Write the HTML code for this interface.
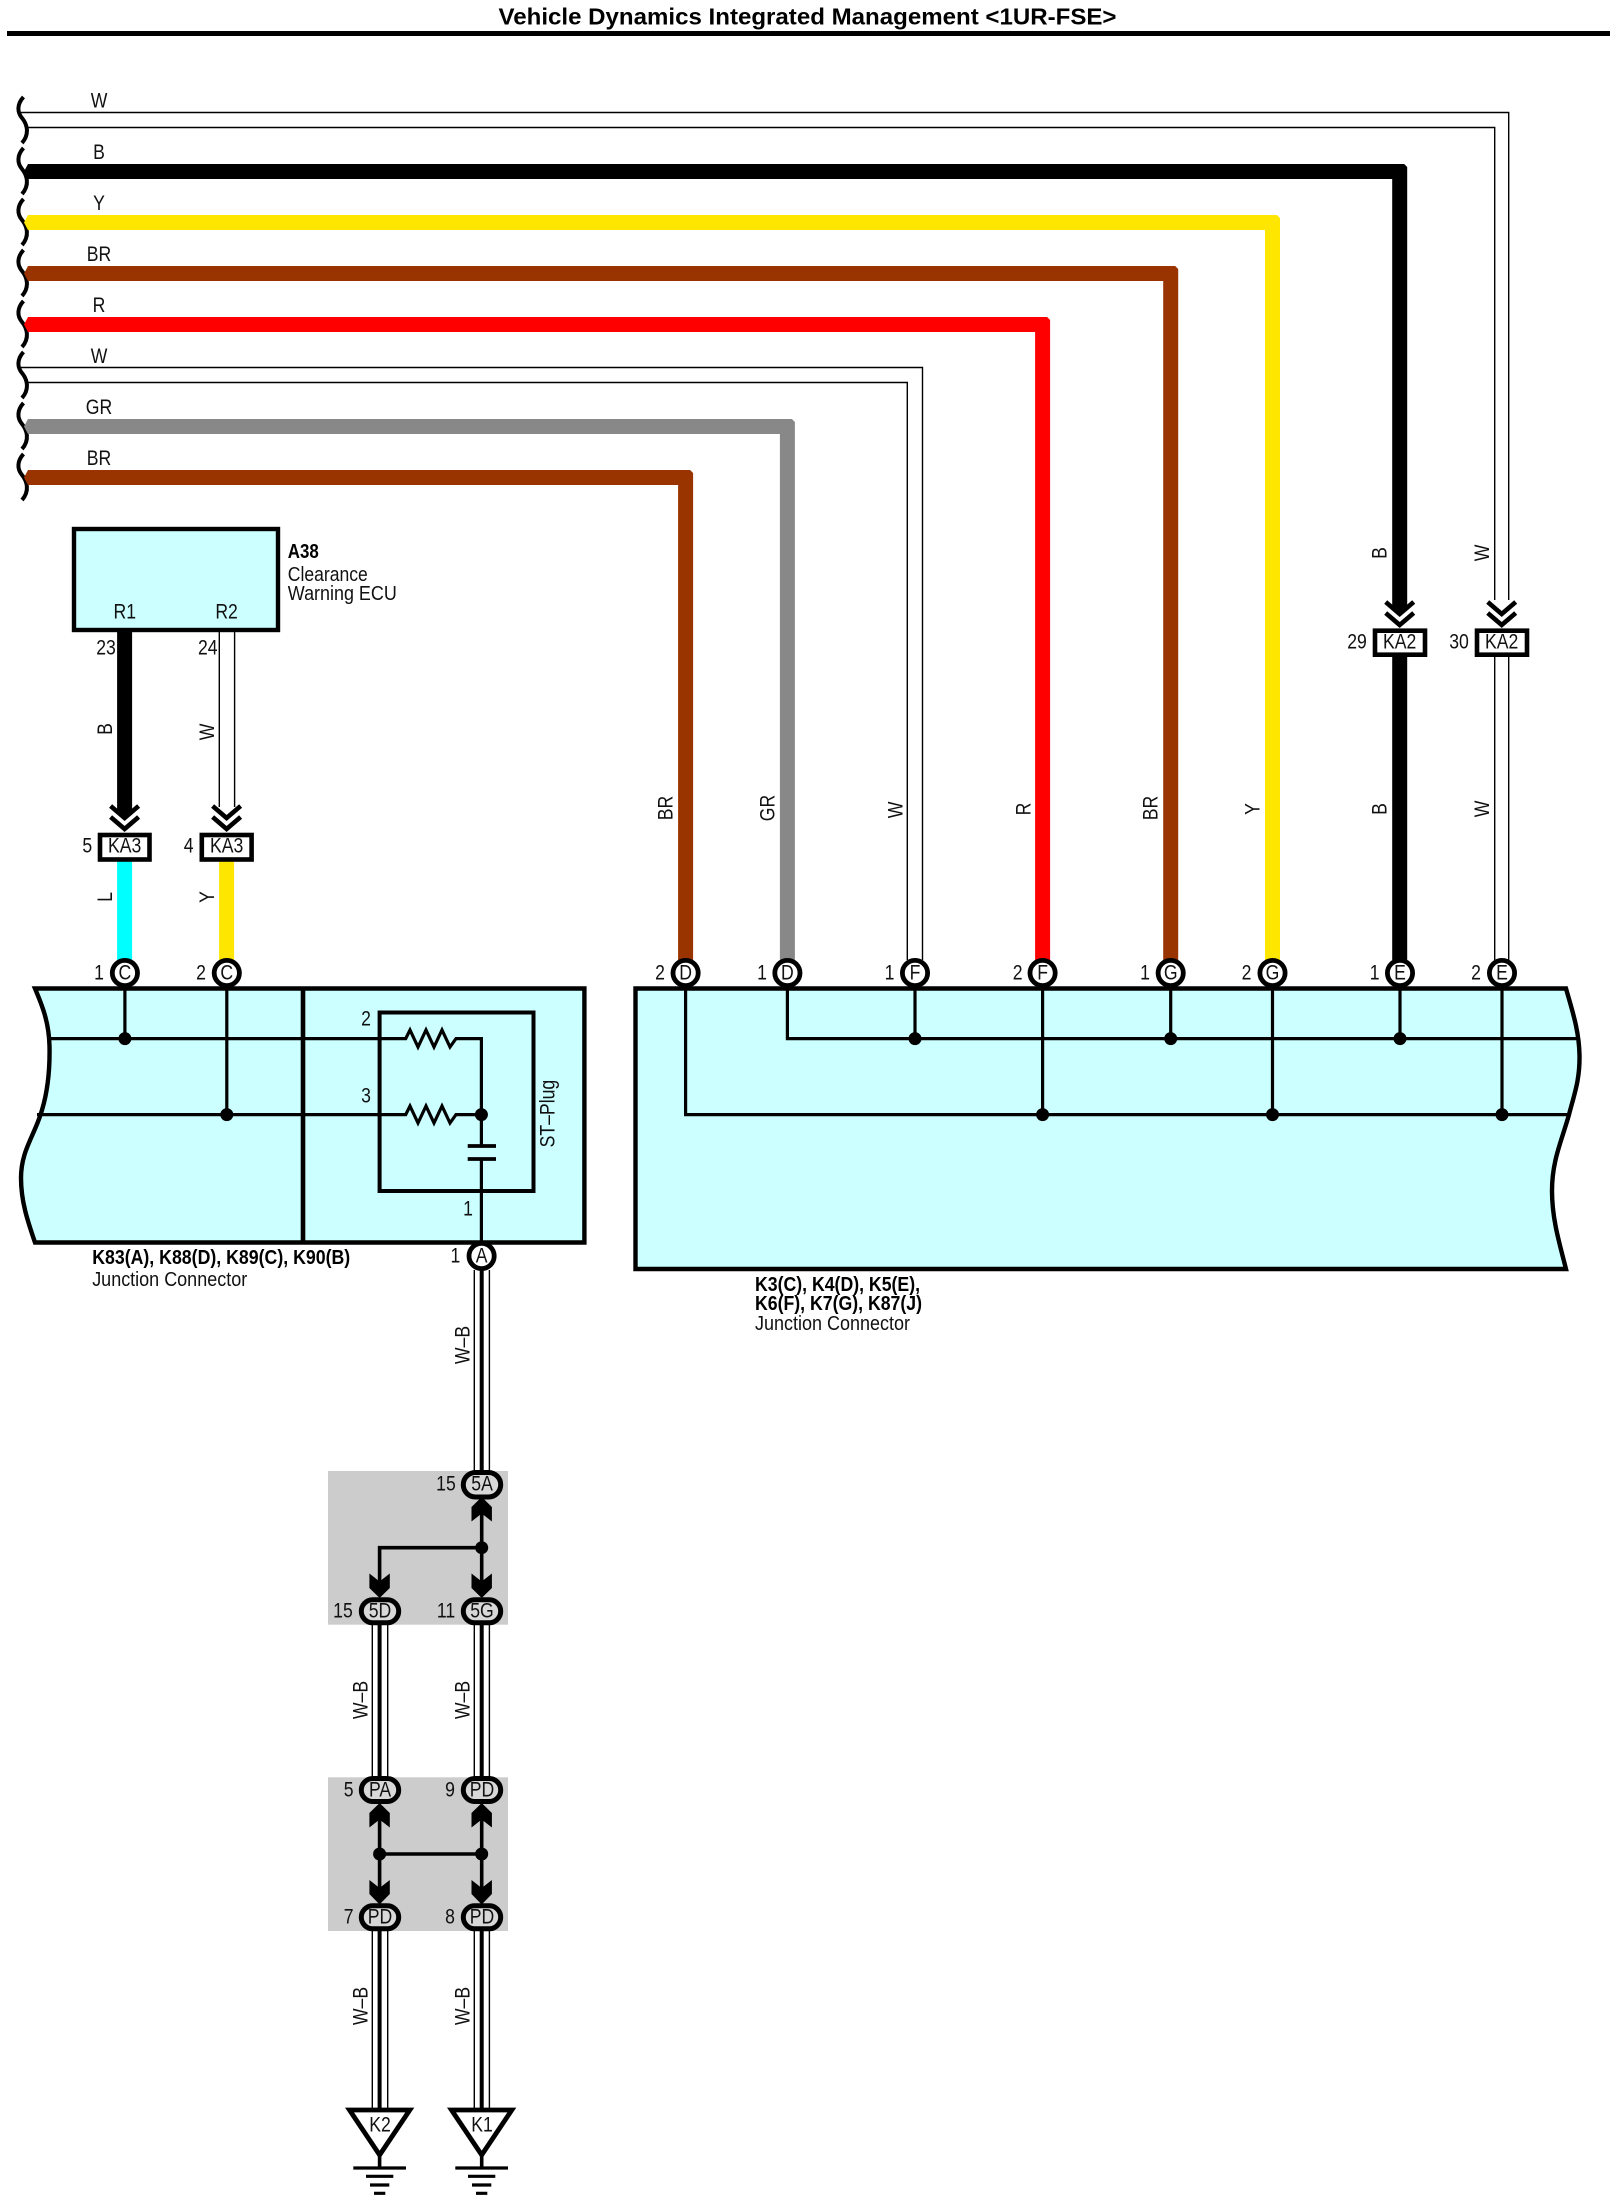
<!DOCTYPE html>
<html>
<head>
<meta charset="utf-8">
<style>
html,body{margin:0;padding:0;background:#fff;}
svg{display:block;}
text{font-family:"Liberation Sans",sans-serif;font-size:21.5px;fill:#111;}
.c{text-anchor:middle;dominant-baseline:central;transform-box:fill-box;transform-origin:center;transform:scaleX(.82);}
.b{font-weight:bold;fill:#000;}
.l{font-size:20px;}
</style>
</head>
<body>
<svg xmlns="http://www.w3.org/2000/svg" width="1614" height="2209" viewBox="0 0 1614 2209">
<rect width="1614" height="2209" fill="#fff"/>

<!-- Title -->
<text x="498.5" y="24.5" class="b" style="font-size:23px" textLength="618" lengthAdjust="spacingAndGlyphs">Vehicle Dynamics Integrated Management &lt;1UR-FSE&gt;</text>
<rect x="7" y="31" width="1603" height="5" fill="#000"/>

<!-- Wavy break -->
<g fill="none" stroke="#000" stroke-width="4">
<path d="M23.5 97C17 104 17 112 22 118S30 134 22 143"/>
<path transform="translate(0,51)" d="M23.5 97C17 104 17 112 22 118S30 134 22 143"/>
<path transform="translate(0,102)" d="M23.5 97C17 104 17 112 22 118S30 134 22 143"/>
<path transform="translate(0,153)" d="M23.5 97C17 104 17 112 22 118S30 134 22 143"/>
<path transform="translate(0,204)" d="M23.5 97C17 104 17 112 22 118S30 134 22 143"/>
<path transform="translate(0,255)" d="M23.5 97C17 104 17 112 22 118S30 134 22 143"/>
<path transform="translate(0,306)" d="M23.5 97C17 104 17 112 22 118S30 134 22 143"/>
<path transform="translate(0,357)" d="M23.5 97C17 104 17 112 22 118S30 134 22 143"/>
</g>

<!-- Top white wires -->
<g fill="none" stroke="#000" stroke-width="1.4">
<path d="M21 112.5H1508.7V600"/>
<path d="M27 127.5H1494.7V600"/>
<path d="M21 367.5H922.5V960"/>
<path d="M27 382.5H907.3V960"/>
<path d="M1494.7 656V960M1508.7 656V960"/>
</g>

<!-- Thick coloured wires -->
<g fill="none" stroke-width="15" stroke-linejoin="miter">
<path d="M28 171.5H1399.7V608" stroke="#000"/>
<path d="M28 222.5H1272.5V960" stroke="#ffe600"/>
<path d="M28 273.5H1170.7V960" stroke="#993300"/>
<path d="M28 324.5H1042.6V960" stroke="#ff0000"/>
<path d="M28 426.5H787.4V960" stroke="#888888"/>
<path d="M28 477.5H685.6V960" stroke="#993300"/>
<path d="M1399.7 656V960" stroke="#000"/>
</g>
<polygon points="1392.2,607 1407.2,607 1407.2,608 1399.7,615 1392.2,608" fill="#000"/>
<polygon points="24,171.5 28,164 28,179" fill="#000"/>
<polygon points="24,222.5 28,215 28,230" fill="#ffe600"/>
<polygon points="24,273.5 28,266 28,281" fill="#993300"/>
<polygon points="24,324.5 28,317 28,332" fill="#ff0000"/>
<polygon points="24,426.5 28,419 28,434" fill="#888888"/>
<polygon points="24,477.5 28,470 28,485" fill="#993300"/>
<!-- softened wire corners -->
<g fill="#fff">
<polygon points="1407.7,163.5 1403.7,163.5 1407.7,167.5"/>
<polygon points="1280.5,214.5 1276.5,214.5 1280.5,218.5"/>
<polygon points="1178.7,265.5 1174.7,265.5 1178.7,269.5"/>
<polygon points="1050.6,316.5 1046.6,316.5 1050.6,320.5"/>
<polygon points="795.4,418.5 791.4,418.5 795.4,422.5"/>
<polygon points="693.6,469.5 689.6,469.5 693.6,473.5"/>
</g>

<!-- Top wire labels -->
<g>
<text class="c" x="99" y="101">W</text>
<text class="c" x="99" y="152.5">B</text>
<text class="c" x="99" y="203.5">Y</text>
<text class="c" x="99" y="254.5">BR</text>
<text class="c" x="99" y="305.5">R</text>
<text class="c" x="99" y="356.5">W</text>
<text class="c" x="99" y="407.5">GR</text>
<text class="c" x="99" y="458.5">BR</text>
</g>

<!-- A38 ECU -->
<rect x="74" y="529" width="204" height="101" fill="#ccffff" stroke="#000" stroke-width="4.4"/>
<text class="c" x="124.8" y="612">R1</text>
<text class="c" x="226.6" y="612">R2</text>
<text x="287.8" y="558" class="b l" textLength="31" lengthAdjust="spacingAndGlyphs">A38</text>
<text x="287.8" y="581" class="l" textLength="80" lengthAdjust="spacingAndGlyphs">Clearance</text>
<text x="287.8" y="600" class="l" textLength="109" lengthAdjust="spacingAndGlyphs">Warning ECU</text>

<!-- A38 wires -->
<path d="M124.6 631V812" stroke="#000" stroke-width="15" fill="none"/>
<polygon points="117.1,811 132.1,811 132.1,812 124.6,819 117.1,812" fill="#000"/>
<path d="M219.3 631V807M234.6 631V807" stroke="#000" stroke-width="1.4" fill="none"/>
<path d="M124.6 861V962" stroke="#00ffff" stroke-width="15" fill="none"/>
<path d="M226.6 861V962" stroke="#ffe600" stroke-width="15" fill="none"/>

<!-- Chevrons -->
<g fill="none" stroke="#000" stroke-width="4.6">
<path d="M110.6 806L124.6 818L138.6 806M110.6 817L124.6 829L138.6 817"/>
<path d="M212.6 806L226.6 818L240.6 806M212.6 817L226.6 829L240.6 817"/>
<path d="M1385.7 602L1399.7 614L1413.7 602M1385.7 613L1399.7 625L1413.7 613"/>
<path d="M1487.7 602L1501.7 614L1515.7 602M1487.7 613L1501.7 625L1515.7 613"/>
</g>

<!-- Inline connector boxes -->
<g fill="#fff" stroke="#000" stroke-width="4.6">
<rect x="100" y="835" width="49.5" height="24.5"/>
<rect x="201.8" y="835" width="49.8" height="24.5"/>
<rect x="1375" y="630.7" width="50" height="24"/>
<rect x="1477" y="630.7" width="50" height="24"/>
</g>
<text class="c" x="124.6" y="846">KA3</text>
<text class="c" x="226.6" y="846">KA3</text>
<text class="c" x="1399.7" y="642">KA2</text>
<text class="c" x="1501.7" y="642">KA2</text>
<text class="c" x="87.3" y="846">5</text>
<text class="c" x="188.7" y="846">4</text>
<text class="c" x="1357" y="642">29</text>
<text class="c" x="1459" y="642">30</text>
<text class="c" x="106" y="648">23</text>
<text class="c" x="207.8" y="648">24</text>

<!-- Rotated labels -->
<g transform="translate(105.5,729) rotate(-90)"><text class="c">B</text></g>
<g transform="translate(207.5,732) rotate(-90)"><text class="c">W</text></g>
<g transform="translate(105.5,897) rotate(-90)"><text class="c">L</text></g>
<g transform="translate(207.5,897) rotate(-90)"><text class="c">Y</text></g>
<g transform="translate(1380,553) rotate(-90)"><text class="c">B</text></g>
<g transform="translate(1482.5,553) rotate(-90)"><text class="c">W</text></g>
<g transform="translate(666,808) rotate(-90)"><text class="c">BR</text></g>
<g transform="translate(768,808) rotate(-90)"><text class="c">GR</text></g>
<g transform="translate(896,810) rotate(-90)"><text class="c">W</text></g>
<g transform="translate(1024,809) rotate(-90)"><text class="c">R</text></g>
<g transform="translate(1151,808) rotate(-90)"><text class="c">BR</text></g>
<g transform="translate(1253,809) rotate(-90)"><text class="c">Y</text></g>
<g transform="translate(1380,809) rotate(-90)"><text class="c">B</text></g>
<g transform="translate(1482.5,809) rotate(-90)"><text class="c">W</text></g>

<!-- Left junction box -->
<path d="M35 988.5H584.4V1242.5H35C28 1222 21 1202 21 1178C21 1150 35 1135 42 1110C48 1090 50 1070 49.5 1046C49 1022 42 1005 35 988.5Z" fill="#ccffff" stroke="#000" stroke-width="4.4"/>
<path d="M303 989V1242" stroke="#000" stroke-width="4.6"/>
<rect x="379.6" y="1012.5" width="153.9" height="178.5" fill="none" stroke="#000" stroke-width="4"/>
<g fill="none" stroke="#000" stroke-width="3.2">
<path d="M49 1038.6H405.7L410 1030L418 1047L426 1030L434 1047L442 1030L450 1047L456 1038.6H481.4V1146"/>
<path d="M37 1114.6H405.7L410 1106L418 1123L426 1106L434 1123L442 1106L450 1123L456 1114.6H481.4"/>
<path d="M124.9 987V1038.6M226.8 987V1114.6"/>
<path d="M481.4 1159V1243"/>
</g>
<path d="M467.7 1146H496M467.7 1159H496" stroke="#000" stroke-width="3.8"/>
<circle cx="124.9" cy="1038.6" r="6.5" fill="#000"/>
<circle cx="226.8" cy="1114.6" r="6.5" fill="#000"/>
<circle cx="481.4" cy="1114.6" r="6.5" fill="#000"/>
<text class="c" x="366" y="1019">2</text>
<text class="c" x="366" y="1096">3</text>
<text class="c" x="468" y="1209">1</text>
<g transform="translate(548,1113.6) rotate(-90)"><text class="c">ST–Plug</text></g>
<text x="92.2" y="1264" class="b l" textLength="258" lengthAdjust="spacingAndGlyphs">K83(A), K88(D), K89(C), K90(B)</text>
<text x="92.2" y="1286" class="l" textLength="155" lengthAdjust="spacingAndGlyphs">Junction Connector</text>

<!-- Right junction box -->
<path d="M635.5 988.5H1566C1572 1010 1579 1030 1579.5 1055C1580 1080 1574 1095 1569 1114.6C1562 1140 1552 1160 1552 1190.7C1552 1220 1560 1245 1566 1269H635.5Z" fill="#ccffff" stroke="#000" stroke-width="4.4"/>
<g fill="none" stroke="#000" stroke-width="3.2">
<path d="M787.4 987V1038.6H1579"/>
<path d="M685.6 987V1114.6H1569"/>
<path d="M915 987V1038.6M1170.7 987V1038.6M1400 987V1038.6"/>
<path d="M1042.6 987V1114.6M1272.5 987V1114.6M1502 987V1114.6"/>
</g>
<g fill="#000">
<circle cx="915" cy="1038.6" r="6.5"/>
<circle cx="1170.7" cy="1038.6" r="6.5"/>
<circle cx="1400" cy="1038.6" r="6.5"/>
<circle cx="1042.6" cy="1114.6" r="6.5"/>
<circle cx="1272.5" cy="1114.6" r="6.5"/>
<circle cx="1502" cy="1114.6" r="6.5"/>
</g>
<text x="755" y="1291" class="b l" textLength="165" lengthAdjust="spacingAndGlyphs">K3(C), K4(D), K5(E),</text>
<text x="755" y="1310" class="b l" textLength="167" lengthAdjust="spacingAndGlyphs">K6(F), K7(G), K87(J)</text>
<text x="755" y="1330" class="l" textLength="155" lengthAdjust="spacingAndGlyphs">Junction Connector</text>

<!-- Circle connectors -->
<g fill="#fff" stroke="#000" stroke-width="4.8">
<circle cx="124.9" cy="973" r="12.6"/>
<circle cx="226.8" cy="973" r="12.6"/>
<circle cx="481.6" cy="1256" r="12.6"/>
<circle cx="685.6" cy="973" r="12.6"/>
<circle cx="787.4" cy="973" r="12.6"/>
<circle cx="915" cy="973" r="12.6"/>
<circle cx="1042.6" cy="973" r="12.6"/>
<circle cx="1170.7" cy="973" r="12.6"/>
<circle cx="1272.5" cy="973" r="12.6"/>
<circle cx="1400" cy="973" r="12.6"/>
<circle cx="1502" cy="973" r="12.6"/>
</g>
<text class="c" x="124.9" y="973">C</text><text class="c" x="99" y="973">1</text>
<text class="c" x="226.8" y="973">C</text><text class="c" x="201" y="973">2</text>
<text class="c" x="481.6" y="1256">A</text><text class="c" x="455.4" y="1256">1</text>
<text class="c" x="685.6" y="973">D</text><text class="c" x="660" y="973">2</text>
<text class="c" x="787.4" y="973">D</text><text class="c" x="762" y="973">1</text>
<text class="c" x="915" y="973">F</text><text class="c" x="889.5" y="973">1</text>
<text class="c" x="1042.6" y="973">F</text><text class="c" x="1017.6" y="973">2</text>
<text class="c" x="1170.7" y="973">G</text><text class="c" x="1145" y="973">1</text>
<text class="c" x="1272.5" y="973">G</text><text class="c" x="1246.5" y="973">2</text>
<text class="c" x="1400" y="973">E</text><text class="c" x="1374.6" y="973">1</text>
<text class="c" x="1502" y="973">E</text><text class="c" x="1476" y="973">2</text>

<!-- Splice gray areas -->
<rect x="328" y="1471" width="180" height="153.7" fill="#cccccc"/>
<rect x="328" y="1777.3" width="180" height="153.7" fill="#cccccc"/>

<!-- W-B wires -->
<g fill="none" stroke="#000" stroke-width="1.4">
<path d="M474.3 1270V1472M489.4 1270V1472"/>
<path d="M372.3 1625V1777M387.7 1625V1777"/>
<path d="M474.3 1625V1777M489.4 1625V1777"/>
<path d="M372.3 1931V2109M387.7 1931V2109"/>
<path d="M474.3 1931V2109M489.4 1931V2109"/>
</g>
<g fill="none" stroke="#000" stroke-width="4">
<path d="M481.7 1270V1472"/>
<path d="M379.6 1625V1777"/>
<path d="M481.7 1625V1777"/>
<path d="M379.6 1931V2155"/>
<path d="M481.7 1931V2155"/>
</g>
<g transform="translate(463,1345) rotate(-90)"><text class="c">W–B</text></g>
<g transform="translate(360.7,1700) rotate(-90)"><text class="c">W–B</text></g>
<g transform="translate(462.7,1700) rotate(-90)"><text class="c">W–B</text></g>
<g transform="translate(360.7,2006) rotate(-90)"><text class="c">W–B</text></g>
<g transform="translate(462.7,2006) rotate(-90)"><text class="c">W–B</text></g>

<!-- Splice internal lines -->
<g fill="none" stroke="#000" stroke-width="3.6">
<path d="M481.7 1510V1590"/>
<path d="M481.7 1547.7H379.6V1590"/>
<path d="M379.6 1816V1890M481.7 1816V1890"/>
<path d="M379.6 1854H481.7"/>
</g>
<g fill="#000">
<circle cx="481.7" cy="1547.7" r="6.5"/>
<circle cx="379.6" cy="1854" r="6.5"/>
<circle cx="481.7" cy="1854" r="6.5"/>
<!-- up arrows -->
<polygon points="481.7,1497 491.9,1507 491.9,1521.5 481.7,1513.5 471.5,1521.5 471.5,1507"/>
<polygon points="379.6,1803 389.8,1813 389.8,1827.5 379.6,1819.5 369.4,1827.5 369.4,1813"/>
<polygon points="481.7,1803 491.9,1813 491.9,1827.5 481.7,1819.5 471.5,1827.5 471.5,1813"/>
<!-- down arrows -->
<polygon points="379.6,1598 389.8,1588 389.8,1573.5 379.6,1581.5 369.4,1573.5 369.4,1588"/>
<polygon points="481.7,1598 491.9,1588 491.9,1573.5 481.7,1581.5 471.5,1573.5 471.5,1588"/>
<polygon points="379.6,1904.5 389.8,1894 389.8,1880 379.6,1888 369.4,1880 369.4,1894"/>
<polygon points="481.7,1904.5 491.9,1894 491.9,1880 481.7,1888 471.5,1880 471.5,1894"/>
</g>

<!-- Ovals -->
<g fill="#d8d8d8" stroke="#000" stroke-width="5">
<rect x="463.3" y="1472.5" width="37.4" height="24.5" rx="12.2"/>
<rect x="361.3" y="1599.8" width="37.4" height="23" rx="11.5"/>
<rect x="463.3" y="1599.8" width="37.4" height="23" rx="11.5"/>
<rect x="361.3" y="1778.5" width="37.4" height="23" rx="11.5"/>
<rect x="463.3" y="1778.5" width="37.4" height="23" rx="11.5"/>
<rect x="361.3" y="1905.8" width="37.4" height="23" rx="11.5"/>
<rect x="463.3" y="1905.8" width="37.4" height="23" rx="11.5"/>
</g>
<text class="c" x="482" y="1484">5A</text><text class="c" x="446" y="1484">15</text>
<text class="c" x="380" y="1611">5D</text><text class="c" x="343" y="1611">15</text>
<text class="c" x="482" y="1611">5G</text><text class="c" x="446" y="1611">11</text>
<text class="c" x="380" y="1790">PA</text><text class="c" x="348.7" y="1790">5</text>
<text class="c" x="482" y="1790">PD</text><text class="c" x="450" y="1790">9</text>
<text class="c" x="380" y="1917">PD</text><text class="c" x="348.7" y="1917">7</text>
<text class="c" x="482" y="1917">PD</text><text class="c" x="450" y="1917">8</text>

<!-- Grounds -->
<g fill="none" stroke="#000">
<path d="M349.5 2110H409.8L379.6 2155Z" stroke-width="4.8" fill="#fff"/>
<path d="M451.5 2110H511.8L481.7 2155Z" stroke-width="4.8" fill="#fff"/>
<path d="M379.6 2155V2168M481.7 2155V2168" stroke-width="3.6"/>
<path d="M353.3 2168H406M366 2176.3H393.3M370 2185H389.3M374 2193.3H385.3" stroke-width="3.2"/>
<path d="M455.3 2168H508M468 2176.3H495.3M472 2185H491.3M476 2193.3H487.3" stroke-width="3.2"/>
</g>
<text class="c" x="380" y="2125">K2</text>
<text class="c" x="482" y="2125">K1</text>
</svg>
</body>
</html>
